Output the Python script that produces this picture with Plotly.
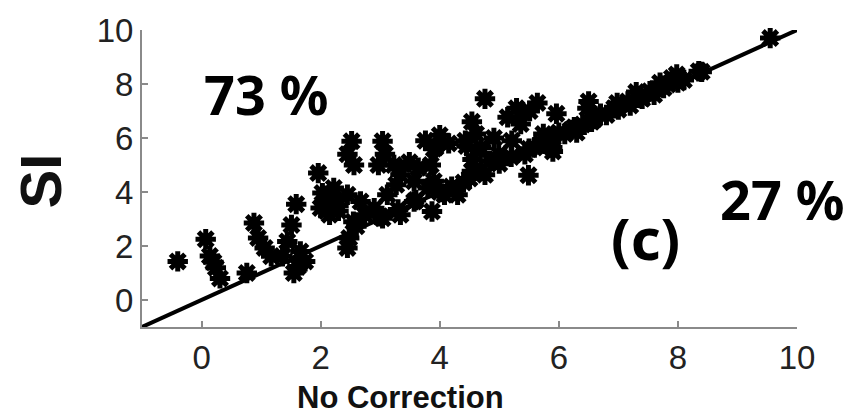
import plotly.graph_objects as go

# Scatter data (No Correction vs SI)
x_vals = [-0.40, 0.07, 0.14, 0.20, 0.24, 0.31, 0.76, 0.88, 0.95, 1.06, 1.17,
          1.59, 1.51, 1.44, 1.36, 1.62, 1.74, 1.66, 1.55,
          1.96, 2.03, 2.00, 2.15, 2.11, 2.22, 2.10, 2.20, 2.30,
          2.45, 2.48, 2.60, 2.55, 2.52, 2.45, 2.56, 3.04, 3.08, 2.97,
          2.30, 2.45, 2.67, 2.74, 2.90, 3.12, 3.27, 3.34, 3.23, 3.49, 3.57,
          3.04, 3.34, 3.57, 3.80, 3.87, 3.64, 3.76, 4.00, 3.93,
          3.85, 3.90, 4.15, 4.45, 4.55, 4.50, 4.20, 3.90,
          4.40, 4.54, 4.30, 4.08, 4.43, 4.54, 4.76, 4.61, 4.69, 4.84, 4.76,
          4.99, 4.91, 5.14, 5.29, 5.51, 5.36, 5.21, 5.49, 5.59, 5.43, 5.74,
          5.89, 5.96, 6.10, 6.26, 6.48, 6.55, 6.70, 6.93, 7.16, 7.38, 7.53,
          7.76, 7.90, 7.98, 7.83, 8.35, 9.55,
          3.00, 3.30, 3.60, 4.00, 4.70, 5.00, 5.20, 5.50, 5.70, 5.90, 6.00,
          6.20, 6.40, 6.60, 6.80, 7.00, 7.20, 7.40, 7.60, 8.00, 8.10, 8.40,
          5.64, 6.50, 6.98, 7.30, 7.70, 5.90, 6.30]
y_vals = [1.43, 2.25, 1.63, 1.40, 1.19, 0.80, 1.00, 2.85, 2.30, 1.93, 1.62,
          3.55, 2.78, 2.17, 1.62, 1.24, 1.43, 1.80, 1.00,
          4.70, 3.96, 3.41, 3.16, 3.65, 4.15, 3.30, 3.80, 3.30,
          1.93, 2.30, 2.73, 2.90, 5.88, 5.40, 5.00, 5.88, 5.40, 5.00,
          3.50, 3.90, 3.65, 3.16, 3.40, 3.90, 4.27, 4.64, 5.00, 5.10, 4.40,
          3.03, 3.16, 3.65, 4.15, 3.28, 4.90, 5.90, 6.10, 5.65,
          5.00, 5.60, 5.80, 5.70, 5.20, 4.50, 4.20, 4.40,
          4.35, 4.77, 3.90, 3.90, 5.90, 6.60, 7.45, 6.15, 5.65, 5.16, 4.64,
          5.40, 6.00, 6.77, 7.10, 7.00, 6.52, 5.90, 4.62, 5.65, 5.40, 6.15,
          5.65, 6.90, 6.15, 6.40, 7.10, 6.60, 6.90, 7.10, 7.35, 7.48, 7.73,
          7.85, 8.22, 8.35, 7.98, 8.47, 9.70,
          3.10, 3.35, 3.70, 4.00, 4.80, 5.05, 5.30, 5.60, 5.80, 6.00, 6.20,
          6.30, 6.50, 6.70, 6.85, 7.05, 7.20, 7.45, 7.60, 8.05, 8.15, 8.45,
          7.30, 7.35, 7.30, 7.70, 8.05, 5.50, 6.20]

# Identity line endpoints
line_x = [-1, 10]
line_y = [-1, 10]

tick_vals = [0, 2, 4, 6, 8, 10]
tick_text = ["0", "2", "4", "6", "8", "10"]

fig = go.Figure()
fig.add_trace(go.Scatter(x=line_x, y=line_y, mode="lines",
                         line=dict(color="black", width=4),
                         showlegend=False, hoverinfo="skip"))
fig.add_trace(go.Scatter(x=x_vals, y=y_vals, mode="markers",
                         marker=dict(symbol="asterisk-open", size=17, color="black",
                                     line=dict(color="black", width=5)),
                         showlegend=False, cliponaxis=False))

axis_common = dict(range=[-1, 10], tickvals=tick_vals, ticktext=tick_text,
                   showgrid=False, zeroline=False, showline=True,
                   linecolor="#8a8a8a", linewidth=2, ticks="inside",
                   ticklen=6, tickwidth=2, tickcolor="#8a8a8a",
                   tickfont=dict(family="Liberation Sans", size=33, color="#222"))

fig.update_xaxes(**axis_common)
fig.update_yaxes(**axis_common)

annot_font = dict(family="Noto Sans", size=54, color="black")
fig.update_layout(
    width=845, height=408,
    margin=dict(l=134, r=56, t=22, b=89, autoexpand=False),
    paper_bgcolor="white", plot_bgcolor="white",
    annotations=[
        dict(x=1.09, y=7.63, xref="x", yref="y", text="<b>73 %</b>",
             showarrow=False, font=annot_font),
        dict(x=9.75, y=3.74, xref="x", yref="y", text="<b>27 %</b>",
             showarrow=False, font=annot_font),
        dict(x=7.45, y=2.3, xref="x", yref="y", text="<b>(c)</b>",
             showarrow=False, font=dict(family="Noto Sans", size=58, color="black")),
        dict(x=(400 - 142) / 655, y=(327 - 397) / 297, xref="paper", yref="paper",
             xanchor="center", yanchor="middle",
             text="<b>No Correction</b>", showarrow=False,
             font=dict(family="Liberation Sans", size=31, color="#111")),
        dict(x=(40 - 142) / 655, y=0.49, xref="paper", yref="paper",
             xanchor="center", yanchor="middle",
             text="<b>SI</b>", textangle=-90, showarrow=False,
             font=dict(family="Liberation Sans", size=58, color="#111")),
    ],
)

fig.write_html("out.html")
